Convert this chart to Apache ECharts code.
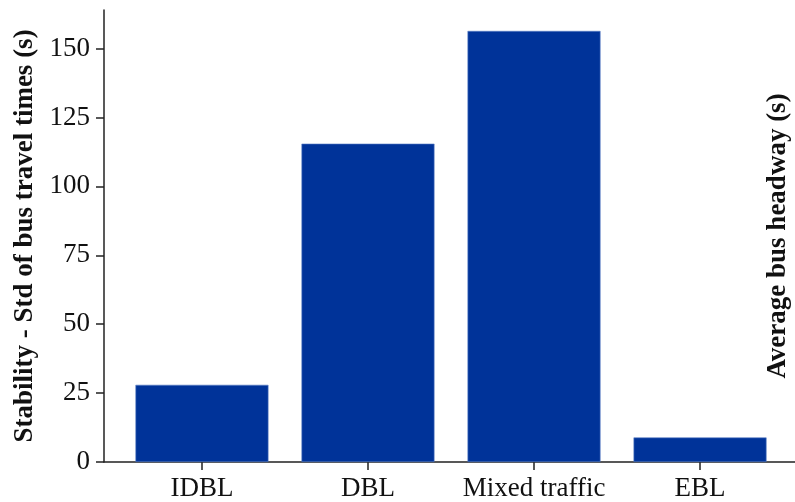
<!DOCTYPE html>
<html>
<head>
<meta charset="utf-8">
<script src="https://cdn.jsdelivr.net/npm/echarts@6/dist/echarts.min.js"></script>
<style>
  html, body { margin: 0; padding: 0; background: #ffffff; }
  #chart { width: 795px; height: 502px; }
</style>
</head>
<body>
<div id="chart"></div>
<script>
// Bus lane scenarios and the spread of travel times for each
const categories = ['IDBL', 'DBL', 'Mixed traffic', 'EBL'];
const stdTravelTime = [28.0, 115.5, 156.4, 8.9];
const yTicks = [0, 25, 50, 75, 100, 125, 150];

const FONT = '"Liberation Serif", "Times New Roman", serif';
const positions = categories.map((_, i) => i);
const barData = stdTravelTime.map((v, i) => [i, v]);

const chart = echarts.init(document.getElementById('chart'), null, { renderer: 'canvas' });

chart.setOption({
  animation: false,
  backgroundColor: '#ffffff',
  grid: { left: 104, right: -3, top: 10, bottom: 40, containLabel: false, outerBoundsMode: 'none' },
  xAxis: {
    type: 'value',
    min: -0.59,
    max: 3.59,
    splitLine: { show: false },
    axisLine: { show: true, onZero: false, lineStyle: { color: '#222', width: 1.5 } },
    axisTick: { show: true, customValues: positions, length: 8, inside: false, lineStyle: { color: '#222', width: 1.5 } },
    axisLabel: {
      customValues: positions,
      formatter: v => categories[Math.round(v)] || '',
      color: '#111',
      fontFamily: FONT,
      fontSize: 27,
      margin: 13
    }
  },
  yAxis: [
    {
      type: 'value',
      min: 0,
      max: 164,
      position: 'left',
      splitLine: { show: false },
      axisLine: { show: true, onZero: false, lineStyle: { color: '#222', width: 1.5 } },
      axisTick: { show: true, customValues: yTicks, length: 8, lineStyle: { color: '#222', width: 1.5 } },
      axisLabel: {
        customValues: yTicks,
        color: '#111',
        fontFamily: FONT,
        fontSize: 27,
        margin: 14
      },
      name: 'Stability - Std of bus travel times (s)',
      nameLocation: 'middle',
      nameGap: 63,
      nameTextStyle: { color: '#111', fontFamily: FONT, fontSize: 27, fontWeight: 'bold' }
    },
    {
      type: 'value',
      min: 0,
      max: 164,
      position: 'right',
      splitLine: { show: false },
      axisLine: { show: false, onZero: false },
      axisTick: { show: false },
      axisLabel: { show: false },
      name: 'Average bus headway (s)',
      nameLocation: 'middle',
      nameRotate: 90,
      nameGap: -33,
      nameTextStyle: { color: '#111', fontFamily: FONT, fontSize: 27, fontWeight: 'bold' }
    }
  ],
  series: [
    {
      type: 'bar',
      data: barData,
      barWidth: 133,
      itemStyle: { color: '#003399', borderColor: '#5b7fc6', borderWidth: 0.6 }
    }
  ]
});
</script>
</body>
</html>
